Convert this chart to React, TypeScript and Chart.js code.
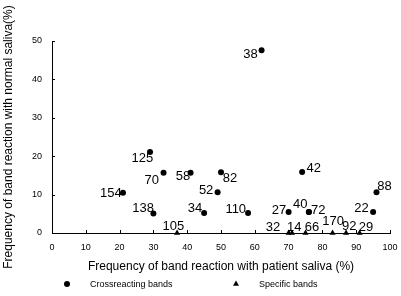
import React, { useEffect, useRef } from "react";
import { Chart, registerables } from "chart.js";

Chart.register(...registerables);

const crossX = [62, 29, 33, 41, 21, 30, 45, 50, 49, 58, 74, 70, 76, 76, 95, 96];
const crossY = [47.6, 21.1, 15.7, 15.7, 10.5, 5.1, 5.2, 15.8, 10.6, 5.2, 15.9, 5.5, 5.5, 5.5, 5.5, 10.6];
const crossLabels = ["38", "125", "70", "58", "154", "138", "34", "82", "52", "110", "42", "27", "40", "72", "22", "88"];

const specX = [37, 70, 71, 75, 83, 87, 91];
const specY = [0, 0, 0, 0, 0, 0, 0];
const specLabels = ["105", "32", "14", "66", "170", "92", "29"];

const xTicks = [0, 10, 20, 30, 40, 50, 60, 70, 80, 90, 100];
const yTicks = [0, 10, 20, 30, 40, 50];

const seriesNames = ["Crossreacting bands", "Specific bands"];
const xTitle = "Frequency of band reaction with patient saliva (%)";
const yTitle = "Frequency of band reaction with normal saliva(%)";

// label offsets in pixels (style only)
const crossOffsets = [
  [-11, 4], [-7.7, 6.7], [-11.8, 7.3], [-7.7, 4], [-12.2, 0.7], [-10.3, -5], [-9, -4.3], [9, 6],
  [-11.5, -2], [-12.3, -3.7], [11.7, -4], [-9.7, -1], [-8.7, -7], [9.3, -1], [-11.7, -3.7], [8, -5.7],
];
const specOffsets = [[-3.7, -6.3], [-15.5, -5.7], [2.2, -5.7], [6.5, -5.7], [0.5, -12], [3.2, -7], [6.3, -5.7]];

const FONT = "'Liberation Sans', Arial, Helvetica, sans-serif";

const labelPlugin = {
  id: "pointLabels",
  afterDatasetsDraw(chart: any) {
    const ctx = chart.ctx;
    ctx.save();
    ctx.fillStyle = "#000";
    ctx.font = `13px ${FONT}`;
    ctx.textAlign = "center";
    ctx.textBaseline = "middle";
    const sets = [
      { labels: crossLabels, offs: crossOffsets },
      { labels: specLabels, offs: specOffsets },
    ];
    sets.forEach((s, di) => {
      const meta = chart.getDatasetMeta(di);
      meta.data.forEach((el: any, i: number) => {
        const o = s.offs[i];
        ctx.fillText(s.labels[i], el.x + o[0], el.y + o[1]);
      });
    });
    ctx.restore();
  },
};

const axisTickPlugin = {
  id: "innerTicks",
  afterDraw(chart: any) {
    const ctx = chart.ctx;
    const xs = chart.scales.x;
    const ys = chart.scales.y;
    const { left, bottom } = chart.chartArea;
    ctx.save();
    ctx.strokeStyle = "#000";
    ctx.lineWidth = 1;
    ctx.beginPath();
    xTicks.forEach((v) => {
      const px = Math.round(xs.getPixelForValue(v)) + 0.5;
      ctx.moveTo(px, bottom);
      ctx.lineTo(px, bottom - 3);
    });
    yTicks.forEach((v) => {
      const py = Math.round(ys.getPixelForValue(v)) + 0.5;
      ctx.moveTo(left, py);
      ctx.lineTo(left + 3, py);
    });
    ctx.stroke();

    // legend
    const ly = 284;
    ctx.fillStyle = "#000";
    ctx.beginPath();
    ctx.arc(67, ly, 3, 0, Math.PI * 2);
    ctx.fill();
    ctx.beginPath();
    const tx = 236;
    const r = 3.5;
    ctx.moveTo(tx, ly - r);
    ctx.lineTo(tx + r * Math.sin((2 * Math.PI) / 3), ly - r * Math.cos((2 * Math.PI) / 3));
    ctx.lineTo(tx + r * Math.sin((4 * Math.PI) / 3), ly - r * Math.cos((4 * Math.PI) / 3));
    ctx.closePath();
    ctx.fill();
    ctx.font = `9px ${FONT}`;
    ctx.textAlign = "left";
    ctx.textBaseline = "middle";
    ctx.fillText(seriesNames[0], 90, ly + 1);
    ctx.fillText(seriesNames[1], 259, ly + 1);
    ctx.restore();
  },
};

export default function App() {
  const ref = useRef<HTMLCanvasElement | null>(null);
  useEffect(() => {
    document.body.style.margin = "0";
    const canvas = ref.current!;
    const chart = new Chart(canvas, {
      type: "scatter",
      data: {
        datasets: [
          {
            label: seriesNames[0],
            data: crossX.map((x, i) => ({ x, y: crossY[i] })),
            pointStyle: "circle",
            pointRadius: 3,
            backgroundColor: "#000",
            borderColor: "#000",
            borderWidth: 0,
            clip: false as any,
          },
          {
            label: seriesNames[1],
            data: specX.map((x, i) => ({ x, y: specY[i] })),
            pointStyle: "triangle",
            pointRadius: 3.5,
            backgroundColor: "#000",
            borderColor: "#000",
            borderWidth: 0,
            clip: false as any,
          },
        ],
      },
      options: {
        animation: false,
        responsive: false,
        events: [],
        layout: { padding: { left: 0, right: 11, top: 41, bottom: 0 } },
        plugins: { legend: { display: false }, tooltip: { enabled: false } },
        scales: {
          x: {
            type: "linear",
            min: 0,
            max: 100,
            afterBuildTicks: (s: any) => {
              s.ticks = xTicks.map((v) => ({ value: v }));
            },
            afterFit: (s: any) => {
              s.height = 63;
              s.paddingLeft = 0;
              s.paddingRight = 0;
            },
            grid: { display: false, drawTicks: false },
            border: { display: true, color: "#000", width: 1 },
            ticks: {
              color: "#000",
              font: { family: FONT, size: 9 },
              padding: 9,
              maxRotation: 0,
              autoSkip: false,
            },
            title: {
              display: true,
              text: xTitle,
              color: "#000",
              font: { family: FONT, size: 12 },
              padding: { top: 0, bottom: 22 },
            },
          },
          y: {
            type: "linear",
            min: 0,
            max: 50,
            afterBuildTicks: (s: any) => {
              s.ticks = yTicks.map((v) => ({ value: v }));
            },
            afterFit: (s: any) => {
              s.width = 52;
              s.paddingTop = 0;
              s.paddingBottom = 0;
            },
            grid: { display: false, drawTicks: false },
            border: { display: true, color: "#000", width: 1 },
            ticks: {
              color: "#000",
              font: { family: FONT, size: 9 },
              padding: 10,
              autoSkip: false,
            },
            title: {
              display: true,
              text: yTitle,
              color: "#000",
              font: { family: FONT, size: 12 },
              padding: { top: 1, bottom: 0 },
            },
          },
        },
      },
      plugins: [labelPlugin, axisTickPlugin],
    });
    return () => chart.destroy();
  }, []);
  return (
    <div style={{ position: "absolute", left: 0, top: 0, width: 401, height: 296 }}>
      <canvas ref={ref} width={401} height={296} style={{ width: 401, height: 296 }} />
    </div>
  );
}
